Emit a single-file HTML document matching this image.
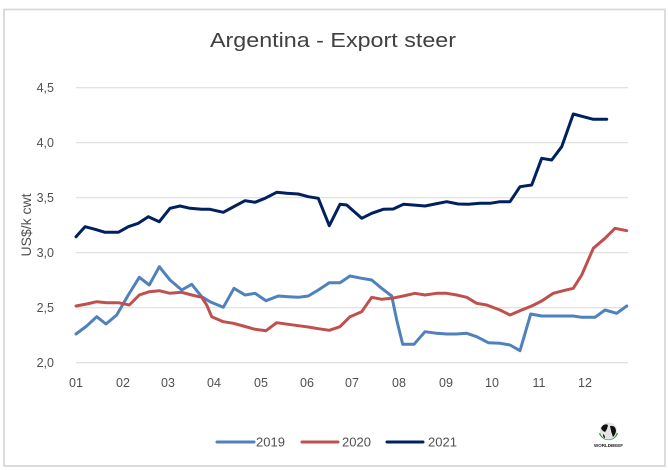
<!DOCTYPE html>
<html><head><meta charset="utf-8"><style>
html,body{margin:0;padding:0;background:#fff;}
svg{display:block;}
text{font-family:"Liberation Sans",sans-serif;}
</style></head><body>
<svg width="668" height="470" viewBox="0 0 668 470" xmlns="http://www.w3.org/2000/svg">
<rect x="0" y="0" width="668" height="470" fill="#fff"/>
<rect x="4" y="9.5" width="661" height="456.5" fill="#fff" stroke="#d9d9d9" stroke-width="1.8"/>
<text x="333" y="47" font-size="20" fill="#404040" text-anchor="middle" textLength="246" lengthAdjust="spacingAndGlyphs">Argentina - Export steer</text>
<g stroke="#d9d9d9" stroke-width="1">
<line x1="76" y1="87.7" x2="628" y2="87.7"/>
<line x1="76" y1="142.7" x2="628" y2="142.7"/>
<line x1="76" y1="197.7" x2="628" y2="197.7"/>
<line x1="76" y1="252.7" x2="628" y2="252.7"/>
<line x1="76" y1="307.7" x2="628" y2="307.7"/>
<line x1="76" y1="362.7" x2="628" y2="362.7"/>
</g>
<g font-size="12.5" fill="#505050" text-anchor="end">
<text x="54" y="92">4,5</text>
<text x="54" y="147">4,0</text>
<text x="54" y="202">3,5</text>
<text x="54" y="257">3,0</text>
<text x="54" y="312">2,5</text>
<text x="54" y="367">2,0</text>
</g>
<text transform="translate(31,225) rotate(-90)" font-size="14" fill="#505050" text-anchor="middle">US$/k cwt</text>
<g font-size="12.5" fill="#505050" text-anchor="middle">
<text x="76" y="387">01</text>
<text x="123" y="387">02</text>
<text x="168" y="387">03</text>
<text x="214" y="387">04</text>
<text x="261" y="387">05</text>
<text x="307" y="387">06</text>
<text x="352" y="387">07</text>
<text x="399" y="387">08</text>
<text x="446" y="387">09</text>
<text x="492" y="387">10</text>
<text x="539" y="387">11</text>
<text x="585" y="387">12</text>
</g>
<g fill="none" stroke-width="3" stroke-linejoin="round" stroke-linecap="round">
<polyline stroke="#4f81bd" points="76,334 86.7,326 96.7,316.7 106,324 116.7,315 128.3,295 139.3,277.3 149.3,285 159.3,266.7 170,280 181.7,290 191.7,284.3 201.7,296.7 210,301.7 223.3,307.3 234,288.3 245,295 255,293.3 266,300.7 278.3,296 288.3,296.7 298.3,297.3 308.3,296 318.3,290 329.3,282.7 340,282.7 350,276 361.7,278.3 371.7,280 381.7,288.3 391.7,296 396.7,320 402.7,344.3 414,344.3 425,331.7 436.7,333.3 446.7,334 456.7,334 466.7,333.3 476.7,336.7 488.3,342.7 500,343.3 510,345 520,350.7 530.7,314 541.7,316 553.3,316 563.3,316 573.3,316 581.7,317.3 595,317.3 605,310 616.7,313.3 626.7,306"/>
<polyline stroke="#c0504d" points="76,306 86.7,304 96.7,301.7 106.7,302.7 118.3,302.7 129.3,305 139.3,295 149.3,291.7 159.3,290.7 170,293.3 181.7,292.3 191.7,295 201.7,297.3 206.7,305 211.7,316.7 223.3,321.7 233.3,323.3 243.3,326 255,329.3 266,330.7 276.7,322.7 288.3,324.3 298.3,325.7 308.3,327 318.3,328.7 329.3,330.3 340,326.7 350,316.7 361.7,311.7 371.7,297.3 381.7,299.3 391.7,298.3 403.3,296 415,293.3 425,295 436.7,293.3 446.7,293.3 456.7,295 466.7,297.3 476.7,303.3 486.7,305 500,310 510,315 520,310.7 531.7,306 541.7,301 553.3,293.3 563.3,290.7 573.3,288.3 581.7,275 593.3,248.3 605,238.3 615,228.3 626.7,230.7"/>
<polyline stroke="#002060" points="76,236.7 85,226.7 95,229.3 105,232.3 118.3,232.3 128.3,226.7 138.3,223.3 148.3,216.7 159.3,221.7 170,208.3 180,206 190,208.3 201.7,209.3 210,209.3 223.3,212.3 235,206 245,200.7 255,202.3 265,198.3 276.7,192.3 286.7,193.3 298.3,194 308.3,196.7 318.3,198.3 329.3,225.7 340,204.3 346.7,205 361.7,218.3 371.7,213.3 383.3,209.3 393.3,209 403.3,204.3 413.3,205 425,206 435,204 446.7,201.7 458.3,204 468.3,204.3 480,203.3 490,203.3 500,201.7 510,201.7 520,186.7 531.7,185 541.7,158.3 551.7,160 561.7,146.7 573.3,114 583.3,116.7 593.3,119.3 606.7,119.3"/>
</g>
<g stroke-width="3" stroke-linecap="round">
<line x1="217" y1="442" x2="254" y2="442" stroke="#4f81bd"/>
<line x1="302" y1="442" x2="338" y2="442" stroke="#c0504d"/>
<line x1="387" y1="442" x2="423" y2="442" stroke="#002060"/>
</g>
<g font-size="13" fill="#505050">
<text x="256" y="446.5">2019</text>
<text x="342" y="446.5">2020</text>
<text x="428" y="446.5">2021</text>
</g>
<g>
<path d="M600,433 A9,9 0 0 0 617,433" fill="none" stroke="#2e9a3a" stroke-width="2.2"/>
<circle cx="608.5" cy="431" r="8.5" fill="#e4e4e4"/>
<path d="M601,428 q3,-5 7,-3 q-1,5 -3,7 q-3,-1 -4,-4z M610,426 q5,-1 6,4 q0,4 -3,7 q-2,-5 -3,-11z M603,434 q2,1 2,4 q-2,0 -2,-4z" fill="#111"/>
<text x="608.5" y="447" font-size="4.5" fill="#222" text-anchor="middle" font-weight="bold">WORLDBEEF</text>
</g>
</svg>
</body></html>
